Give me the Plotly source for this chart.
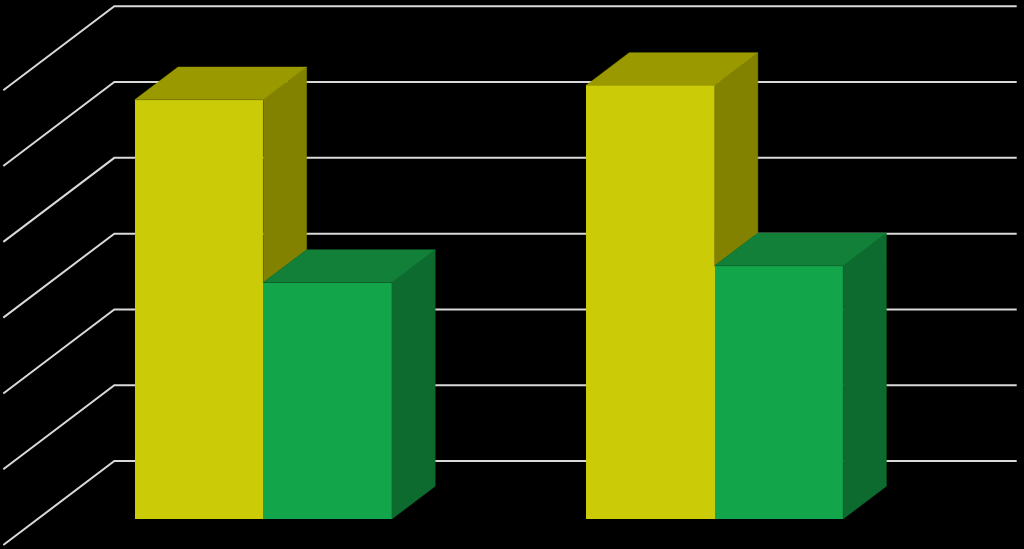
import plotly.graph_objects as go


# two groups, values (scale 0..6, one gridline per unit)
group_pos = [0, 1]
yellow_values = [5.53, 5.72]
green_values = [3.12, 3.34]
grid_values = [0, 1, 2, 3, 4, 5, 6]

# colours: front, top, side
yellow_c = ('#cbcb08', '#9a9a00', '#828200')
green_c = ('#13a54a', '#128038', '#0d6b2f')
grid_c = '#d9d9d9'

# oblique 3d look
BAR_W = 0.285            # width of one bar (category units)
D0, D1 = 0.31, 0.70      # front / back of the bars as a fraction of the floor depth
DEPTH_X = 0.246          # full floor depth, x shift
DEPTH_Y = 1.108          # full floor depth, y shift
FLOOR = (-0.5, 1.5)      # floor extent along x


def proj(x, v, d):
    # move a point (x, value) back to depth d
    return x + (d - D0) * DEPTH_X, v + (d - D0) * DEPTH_Y


def face(pts, color):
    xy = [proj(*p) for p in pts]
    xs = [p[0] for p in xy] + [xy[0][0]]
    ys = [p[1] for p in xy] + [xy[0][1]]
    return go.Scatter(x=xs, y=ys, mode='lines', fill='toself',
                      fillcolor=color, line=dict(color=color, width=0.5),
                      hoverinfo='skip', showlegend=False)


fig = go.Figure()

# front faces
fig.add_trace(go.Bar(x=[c - BAR_W / 2 for c in group_pos], y=yellow_values,
                     width=BAR_W, marker=dict(color=yellow_c[0], line=dict(width=0)),
                     showlegend=False))
fig.add_trace(go.Bar(x=[c + BAR_W / 2 for c in group_pos], y=green_values,
                     width=BAR_W, marker=dict(color=green_c[0], line=dict(width=0)),
                     showlegend=False))

# top and side faces
for c, yv, gv in zip(group_pos, yellow_values, green_values):
    # yellow side, only the part above the green bar shows
    fig.add_trace(face([(c, gv, D0), (c, yv, D0), (c, yv, D1), (c, gv, D1)], yellow_c[2]))
    fig.add_trace(face([(c - BAR_W, yv, D0), (c, yv, D0), (c, yv, D1), (c - BAR_W, yv, D1)], yellow_c[1]))
    fig.add_trace(face([(c + BAR_W, 0, D0), (c + BAR_W, gv, D0), (c + BAR_W, gv, D1), (c + BAR_W, 0, D1)], green_c[2]))
    fig.add_trace(face([(c, gv, D0), (c + BAR_W, gv, D0), (c + BAR_W, gv, D1), (c, gv, D1)], green_c[1]))

# gridlines: diagonal on the left wall, then along the back wall
shapes = []
for v in grid_values:
    p0 = proj(FLOOR[0], v, 0)
    p1 = proj(FLOOR[0], v, 1)
    p2 = proj(FLOOR[1], v, 1)
    path = 'M %f,%f L %f,%f L %f,%f' % (p0[0], p0[1], p1[0], p1[1], p2[0], p2[1])
    shapes.append(dict(type='path', path=path, xref='x', yref='y', layer='below',
                       line=dict(color=grid_c, width=2)))

fig.update_layout(
    width=1024, height=549,
    margin=dict(l=0, r=0, t=0, b=0),
    paper_bgcolor='black', plot_bgcolor='black',
    barmode='overlay', bargap=0,
    shapes=shapes,
    showlegend=False,
)
fig.update_xaxes(range=[-0.5836, 1.6859], visible=False, showgrid=False, zeroline=False)
fig.update_yaxes(range=[-0.3958, 6.847], visible=False, showgrid=False, zeroline=False)

# no white page margin round the chart
fig.write_html("out.html", config={'displayModeBar': False},
               post_script="document.body.style.margin='0';document.body.style.background='black';")
